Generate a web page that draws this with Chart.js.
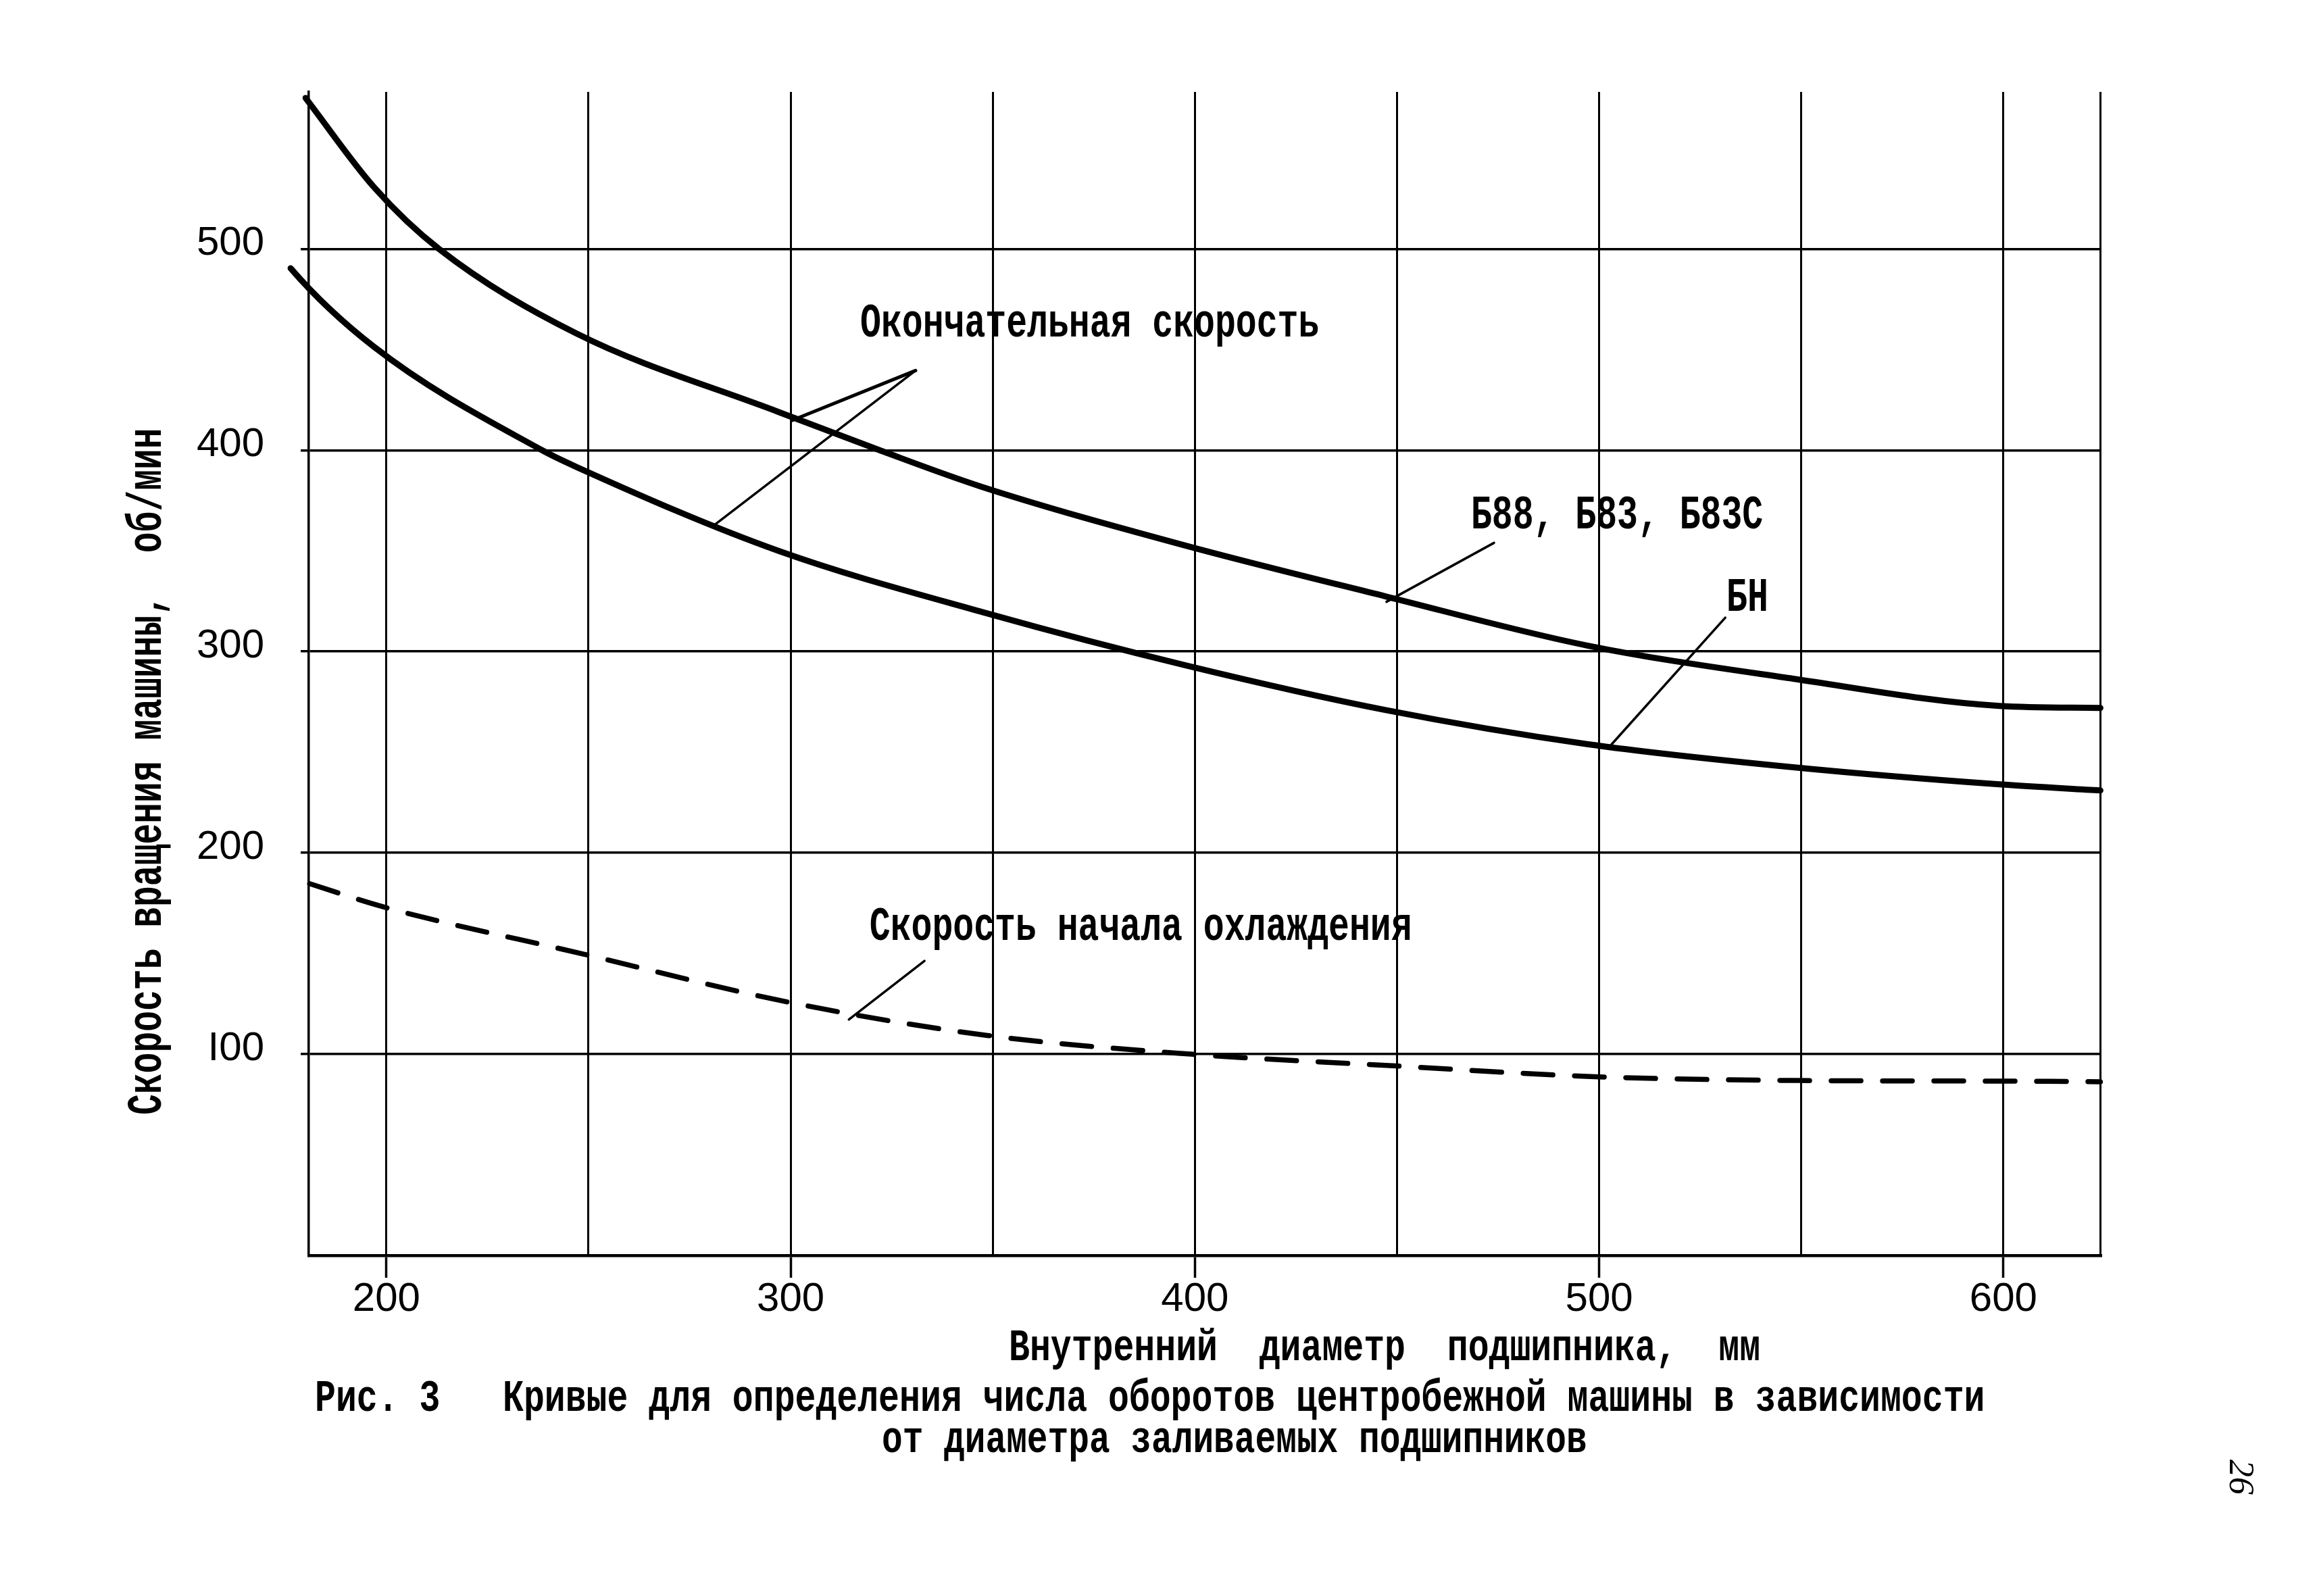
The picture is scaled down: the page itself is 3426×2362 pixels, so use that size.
<!DOCTYPE html>
<html>
<head>
<meta charset="utf-8">
<script src="https://cdn.jsdelivr.net/npm/chart.js@4"></script>
<style>
html,body{margin:0;padding:0;background:#fff;}
canvas{display:block;}
</style>
</head>
<body>
<canvas id="c" width="3426" height="2362" style="width:3426px;height:2362px"></canvas>
<script>
// ---------------- data ----------------
// Final speed, bearings Б88, Б83, Б83С
const finalB88X = [180, 197, 213, 247, 297, 322, 347, 397, 447, 497, 548, 599, 624];
const finalB88Y = [575, 530.5, 500, 458, 419, 400, 382, 353, 327.5, 303, 286.5, 273, 272];
// Final speed, bearing БН
const finalBNX = [175, 176.3, 196.9, 238.5, 247, 297, 348.5, 398, 447, 497, 548, 599, 624];
const finalBNY = [494, 490.4, 451.4, 400, 391.7, 350, 319, 293, 271, 254, 242.5, 234, 231];
// Speed at the start of cooling (dashed)
const coolX = [181, 199, 249, 299, 349, 399, 449, 499, 549, 600, 624];
const coolY = [184.7, 173.3, 149.6, 126, 109.2, 100, 94.2, 88.8, 86.9, 86.6, 86.3];

const xTickValues = [200, 250, 300, 350, 400, 450, 500, 550, 600, 624];
const xTickLabels = ['200', '', '300', '', '400', '', '500', '', '600', ''];
const yTickValues = [100, 200, 300, 400, 500];
const yTickLabels = ['I00', '200', '300', '400', '500'];

const xRange = [180.8, 624.1];
const yRange = [0, 578];

const pts = (xs, ys) => xs.map((v, i) => ({x: v, y: ys[i]}));

// ---------------- annotations ----------------
const TYPE = {family: '"Liberation Mono"', weight: 'bold', size: 70, squeeze: 0.735};

const plotTexts = [
  {text: 'Окончательная скорость', at: [317.2, 456.4]},
  {text: 'Б88, Б83, Б83С', at: [468.3, 361.1]},
  {text: 'БН', at: [531.5, 320.1]},
  {text: 'Скорость начала охлаждения', at: [319.5, 156.7]}
];
const leaders = [
  {from: [330.9, 439.6], to: [300.3, 414.8], w: 5},
  {from: [330.9, 439.6], to: [281.1, 362.8], w: 3.5},
  {from: [474.0, 354.0], to: [447.4, 324.7], w: 3.5},
  {from: [531.2, 316.8], to: [502.2, 251.9], w: 3.5},
  {from: [333.1, 146.3], to: [314.4, 117.2], w: 3.5}
];

function typeText(ctx, text, x, y, opt) {
  const o = Object.assign({}, TYPE, opt || {});
  ctx.save();
  ctx.translate(x, y);
  if (o.rotate) ctx.rotate(o.rotate);
  ctx.scale(o.squeeze, 1);
  ctx.font = `${o.weight} ${o.size}px ${o.family}`;
  ctx.fillStyle = '#000';
  ctx.textAlign = 'left';
  ctx.textBaseline = 'alphabetic';
  ctx.fillText(text, 0, 0);
  ctx.restore();
}

const annotationPlugin = {
  id: 'annotationPlugin',
  afterDatasetsDraw(chart) {
    const {ctx} = chart;
    const sx = chart.scales.x, sy = chart.scales.y;
    const px = v => sx.getPixelForValue(v), py = v => sy.getPixelForValue(v);
    ctx.save();
    ctx.strokeStyle = '#000';
    ctx.lineCap = 'round';
    leaders.forEach(l => {
      ctx.lineWidth = l.w;
      ctx.beginPath();
      ctx.moveTo(px(l.from[0]), py(l.from[1]));
      ctx.lineTo(px(l.to[0]), py(l.to[1]));
      ctx.stroke();
    });
    ctx.restore();
    plotTexts.forEach(t => typeText(ctx, t.text, px(t.at[0]), py(t.at[1])));
  },
  afterDraw(chart) {
    const {ctx} = chart;
    // axis titles and figure caption
    typeText(ctx, 'Скорость вращения машины,  об/мин', 238, 1650, {rotate: -Math.PI / 2, size: 72, squeeze: 0.713});
    typeText(ctx, 'Внутренний  диаметр  подшипника,  мм', 1493, 2013, {size: 66, squeeze: 0.78});
    typeText(ctx, 'Рис. 3   Кривые для определения числа оборотов центробежной машины в зависимости', 466, 2088, {size: 66, squeeze: 0.78});
    typeText(ctx, 'от диаметра заливаемых подшипников', 1305, 2149, {size: 66, squeeze: 0.775});
    // page number
    ctx.save();
    ctx.translate(3300, 2160);
    ctx.rotate(Math.PI / 2);
    ctx.font = 'italic 52px "Liberation Serif"';
    ctx.fillStyle = '#000';
    ctx.textBaseline = 'alphabetic';
    ctx.fillText('26', 0, 0);
    ctx.restore();
  }
};

new Chart(document.getElementById('c'), {
  type: 'line',
  data: {
    datasets: [
      {label: 'Б88, Б83, Б83С', data: pts(finalB88X, finalB88Y), borderColor: '#000', borderWidth: 9,
       pointRadius: 0, cubicInterpolationMode: 'monotone', fill: false, clip: false, borderCapStyle: 'round'},
      {label: 'БН', data: pts(finalBNX, finalBNY), borderColor: '#000', borderWidth: 9,
       pointRadius: 0, cubicInterpolationMode: 'monotone', fill: false, clip: false, borderCapStyle: 'round'},
      {label: 'Скорость начала охлаждения', data: pts(coolX, coolY), borderColor: '#000', borderWidth: 7.5,
       borderDash: [44, 32], borderCapStyle: 'round',
       pointRadius: 0, cubicInterpolationMode: 'monotone', fill: false, clip: false}
    ]
  },
  options: {
    responsive: false,
    devicePixelRatio: 1,
    animation: false,
    layout: {padding: {top: 136, right: 317, bottom: 0, left: 0}},
    plugins: {legend: {display: false}, tooltip: {enabled: false}, title: {display: false}},
    scales: {
      x: {
        type: 'linear', min: xRange[0], max: xRange[1],
        afterBuildTicks: s => { s.ticks = xTickValues.map(v => ({value: v})); },
        afterFit: s => { s.height = 504; },
        ticks: {
          autoSkip: false, maxRotation: 0, minRotation: 0, padding: -4,
          color: '#000', font: {family: '"Liberation Sans"', size: 60},
          callback: (v, i) => xTickLabels[i]
        },
        grid: {
          color: '#000', lineWidth: 3, drawTicks: true, tickLength: 33, tickWidth: 3.5,
          tickColor: c => (xTickLabels[c.index] ? '#000' : 'rgba(0,0,0,0)')
        },
        border: {display: true, color: '#000', width: 4.5}
      },
      y: {
        type: 'linear', min: yRange[0], max: yRange[1],
        afterBuildTicks: s => { s.ticks = yTickValues.map(v => ({value: v})); },
        afterFit: s => { s.width = 457; },
        ticks: {
          padding: 54, labelOffset: -8,
          color: '#000', font: {family: '"Liberation Sans"', size: 60},
          callback: (v, i) => yTickLabels[i]
        },
        grid: {color: '#000', lineWidth: 3.5, drawTicks: true, tickLength: 12, tickWidth: 3.5, tickColor: '#000'},
        border: {display: true, color: '#000', width: 3.5}
      }
    }
  },
  plugins: [annotationPlugin]
});
</script>
</body>
</html>
